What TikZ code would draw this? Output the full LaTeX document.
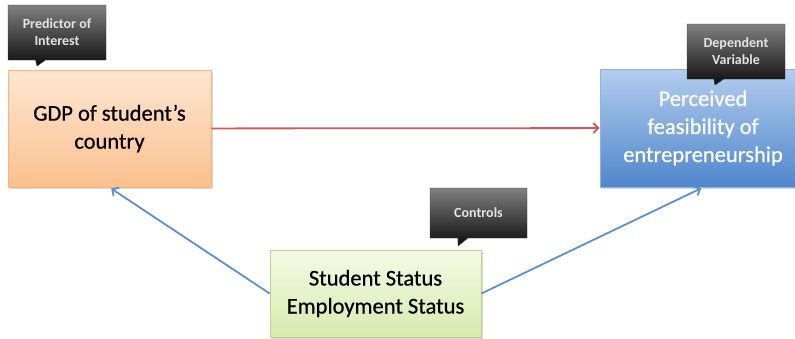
\documentclass[tikz,border=0pt]{standalone}
\usepackage{fontspec}
\setmainfont{Carlito}
\newfontfamily\boxfont[FakeBold=0.6]{Carlito}
\usetikzlibrary{shapes.callouts,shadows,arrows.meta}

\definecolor{orangeTop}{HTML}{FDE6D2}
\definecolor{orangeBot}{HTML}{FBC08E}
\definecolor{orangeLine}{HTML}{F9B47A}
\definecolor{blueTop}{HTML}{B3CDEE}
\definecolor{blueBot}{HTML}{4F86CC}
\definecolor{blueLine}{HTML}{8FB2E0}
\definecolor{greenTop}{HTML}{F4FAE6}
\definecolor{greenBot}{HTML}{D8EAAE}
\definecolor{greenLine}{HTML}{B9D57E}
\definecolor{redArrow}{HTML}{CC5A55}
\definecolor{blueArrow}{HTML}{5B8FD2}
\definecolor{tagText}{HTML}{E4E4E4}

\begin{document}
\begin{tikzpicture}[x=1pt,y=-1pt,
  box/.style={rectangle, inner sep=0pt, align=center,
    font=\boxfont\fontsize{22.5}{28}\selectfont, line width=0.8pt,
    drop shadow={shadow xshift=1.5pt, shadow yshift=-1.5pt, opacity=0.3}},
  orangebox/.style={box, top color=orangeTop, bottom color=orangeBot, draw=orangeLine},
  bluebox/.style={box, top color=blueTop, bottom color=blueBot, draw=blueLine, text=white},
  greenbox/.style={box, top color=greenTop, bottom color=greenBot, draw=greenLine},
  tag/.style={rectangle callout, top color=black!50, bottom color=black!95,
    draw=black!75, text=tagText, font=\bfseries\fontsize{14}{17}\selectfont,
    align=center, inner sep=0pt, callout pointer width=10pt},
  link/.style={line width=1.8pt, -{Straight Barb[length=5pt,width=10pt,line width=1.8pt]}},
]
\useasboundingbox (0,0) rectangle (795,338);

% variable boxes
\node[orangebox, minimum width=203pt, minimum height=117pt] (gdp) at (109.5,128.5)
  {GDP of student’s\\country};
\node[bluebox, minimum width=206pt, minimum height=118pt] (pff) at (703,128)
  {\fontsize{22.5}{27}\selectfont Perceived\\feasibility of\\entrepreneurship};
\node[greenbox, minimum width=211pt, minimum height=87pt] (ctrl) at (375.5,293.5)
  {Student Status\\Employment Status};

% relationships
\draw[link, redArrow] (gdp) -- (pff);
\draw[link, blueArrow, shorten >=2pt] (ctrl.west) -- (gdp.south);
\draw[link, blueArrow, shorten >=2pt] (ctrl.east) -- (pff.south);

% role labels
\coordinate (pGdp) at (37,66);
\coordinate (pPff) at (715,85);
\coordinate (pCtrl) at (458,246);
\node[tag, minimum width=98pt, minimum height=55pt, callout absolute pointer=(pGdp)]
  (tagGdp) at (57,32.5) {Predictor of\\Interest};
\node[tag, minimum width=98pt, minimum height=55pt, callout absolute pointer=(pPff)]
  (tagPff) at (736,51.5) {Dependent\\Variable};
\node[tag, minimum width=97pt, minimum height=50pt, callout absolute pointer=(pCtrl)]
  (tagCtrl) at (478.5,213) {Controls};
\end{tikzpicture}
\end{document}
